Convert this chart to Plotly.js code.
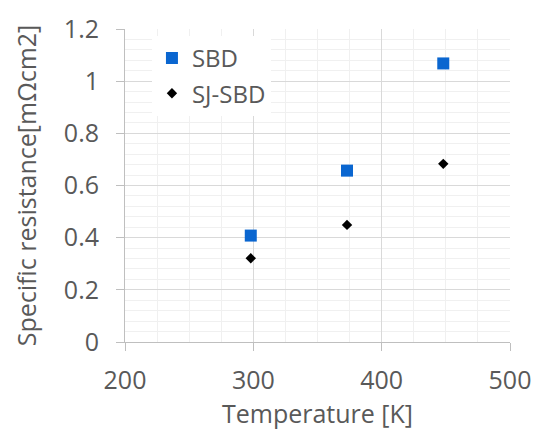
<!DOCTYPE html>
<html>
<head>
<meta charset="utf-8">
<script src="https://cdn.plot.ly/plotly-3.0.1.min.js"></script>
<style>html,body{margin:0;padding:0;background:#fff;}#chart{width:540px;height:433px;}</style>
</head>
<body>
<div id="chart"></div>
<script>
const temperatures = [298, 373, 448];
const sbdValues = [0.408, 0.657, 1.068];
const sjsbdValues = [0.321, 0.449, 0.683];
const seriesNames = ['SBD', 'SJ-SBD'];
const xTickVals = [200, 300, 400, 500];
const yTickVals = [0, 0.2, 0.4, 0.6, 0.8, 1, 1.2];

const textColor = '#595959';
const gridColor = '#d9d9d9';
const minorGridColor = '#f0f0f0';
const font = 'Open Sans, Liberation Sans, sans-serif';

const traces = [
  {
    x: temperatures, y: sbdValues, name: seriesNames[0], type: 'scatter', mode: 'markers',
    legendgroup: 'a',
    marker: {symbol: 'square', size: 12, color: '#0a66d0'}
  },
  {
    x: temperatures, y: sjsbdValues, name: seriesNames[1], type: 'scatter', mode: 'markers',
    legendgroup: 'b',
    marker: {symbol: 'diamond', size: 8, color: '#000000'}
  }
];

const layout = {
  width: 540, height: 433,
  margin: {l: 125, r: 30, t: 29, b: 91},
  paper_bgcolor: '#ffffff', plot_bgcolor: '#ffffff',
  font: {family: font, color: textColor, size: 25},
  showlegend: true,
  legend: {
    x: 0.07, y: 0.978, xanchor: 'left', yanchor: 'top',
    bgcolor: 'rgba(255,255,255,1)', borderwidth: 0,
    font: {family: font, size: 24, color: textColor},
    tracegroupgap: 1
  },
  xaxis: {
    range: [200, 500], tickvals: xTickVals, ticktext: xTickVals.map(String),
    showline: true, linecolor: '#bfbfbf', linewidth: 1,
    ticks: 'outside', ticklen: 8, tickcolor: '#bfbfbf',
    showgrid: true, gridcolor: gridColor, gridwidth: 1,
    minor: {dtick: 25, showgrid: true, gridcolor: minorGridColor, ticks: ''},
    zeroline: false, ticklabelstandoff: 8,
    tickfont: {family: font, size: 25, color: textColor},
    title: {text: 'Temperature [K]', font: {family: font, size: 25, color: textColor}, standoff: 6}
  },
  yaxis: {
    range: [0, 1.2], tickvals: yTickVals, ticktext: yTickVals.map(String),
    showline: true, linecolor: '#bfbfbf', linewidth: 1,
    ticks: 'outside', ticklen: 8, tickcolor: '#bfbfbf',
    showgrid: true, gridcolor: gridColor, gridwidth: 1,
    minor: {dtick: 0.04, showgrid: true, gridcolor: minorGridColor, ticks: ''},
    zeroline: false, ticklabelstandoff: 12,
    tickfont: {family: font, size: 25, color: textColor},
    title: {text: 'Specific resistance[mΩcm2]', font: {family: font, size: 25, color: textColor}, standoff: 20}
  }
};

Plotly.newPlot('chart', traces, layout, {displayModeBar: false, staticPlot: true});
</script>
</body>
</html>
